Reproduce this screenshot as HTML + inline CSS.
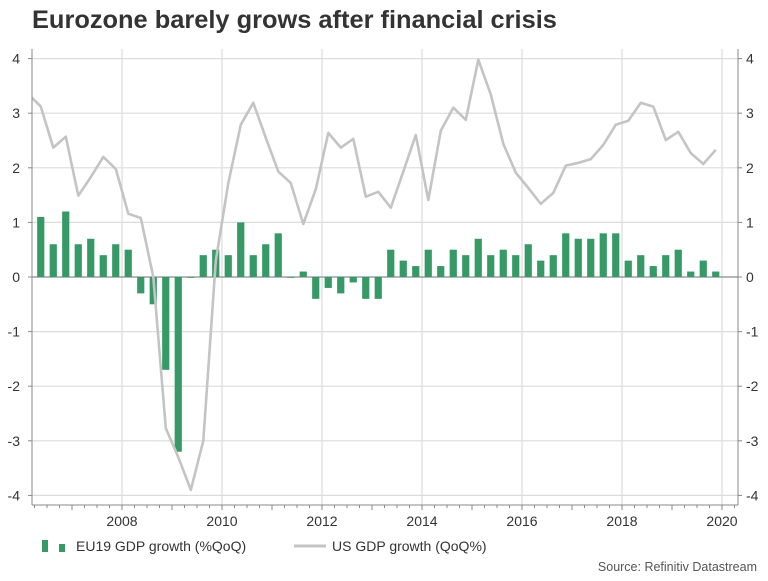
<!DOCTYPE html>
<html><head><meta charset="utf-8"><style>
body{margin:0;background:#fff;width:768px;height:576px;overflow:hidden;font-family:"Liberation Sans",Arial,sans-serif}
svg text{font-family:"Liberation Sans",Arial,sans-serif}
</style></head><body>
<svg id="chart" width="768" height="576" xmlns="http://www.w3.org/2000/svg">
<text x="32" y="28" font-size="25.4" font-weight="bold" fill="#333">Eurozone barely grows after financial crisis</text>
<g id="grid"></g>
<g id="bars"></g>
<g id="line"></g>
<g id="axes"></g>
<g>
<rect x="42" y="540" width="6" height="12" fill="#359a66"/>
<rect x="59" y="544" width="6" height="8" fill="#359a66"/>
<text x="76" y="551" font-size="14" fill="#333">EU19 GDP growth (%QoQ)</text>
<line x1="294" y1="546" x2="326" y2="546" stroke="#c4c4c4" stroke-width="3"/>
<text x="332" y="551" font-size="14" fill="#333">US GDP growth (QoQ%)</text>
</g>
<text x="757" y="571" font-size="12.5" fill="#555" text-anchor="end">Source: Refinitiv Datastream</text>
</svg>
<script>
const startYear = 2006;
const euValues = [null,1.1,0.6,1.2,0.6,0.7,0.4,0.6,0.5,-0.3,-0.5,-1.7,-3.2,0.0,0.4,0.5,0.4,1.0,0.4,0.6,0.8,0.0,0.1,-0.4,-0.2,-0.3,-0.1,-0.4,-0.4,0.5,0.3,0.2,0.5,0.2,0.5,0.4,0.7,0.4,0.5,0.4,0.6,0.3,0.4,0.8,0.7,0.7,0.8,0.8,0.3,0.4,0.2,0.4,0.5,0.1,0.3,0.1];
const usValues = [3.35,3.12,2.37,2.57,1.49,1.83,2.2,1.98,1.16,1.08,0.0,-2.77,-3.3,-3.9,-3.0,0.3,1.72,2.79,3.19,2.55,1.93,1.72,0.97,1.61,2.64,2.37,2.53,1.47,1.56,1.27,1.93,2.6,1.41,2.68,3.1,2.88,3.98,3.34,2.44,1.91,1.63,1.34,1.54,2.04,2.09,2.16,2.42,2.79,2.86,3.19,3.12,2.51,2.66,2.27,2.07,2.33];
const yTicks = [4,3,2,1,0,-1,-2,-3,-4];
const xTickYears = [2008,2010,2012,2014,2016,2018,2020];

const L=32,R=738,T=49,B=505;
const xs = t => 122 + (t-2008)*50;
const ys = v => 277 - v*54.6;
const NS="http://www.w3.org/2000/svg";
function mk(tag,attrs,parent){const e=document.createElementNS(NS,tag);for(const k in attrs)e.setAttribute(k,attrs[k]);parent.appendChild(e);return e;}
const grid=document.getElementById('grid'),bars=document.getElementById('bars'),line=document.getElementById('line'),axes=document.getElementById('axes');
const svg=document.getElementById('chart');
const defs=mk('defs',{},svg);const cp=mk('clipPath',{id:'clip'},defs);mk('rect',{x:L,y:T,width:R-L,height:B-T},cp);
bars.setAttribute('clip-path','url(#clip)');line.setAttribute('clip-path','url(#clip)');
for(let y=2007;y<=2020;y++){ if(y%2) continue;
  const g=mk('line',{x1:xs(y),x2:xs(y),y1:T,y2:B,stroke:'#dcdcdc','stroke-width':1.2},grid);
  
  
}
yTicks.forEach(v=>{
  const g=mk('line',{x1:L,x2:R,y1:ys(v),y2:ys(v),stroke:v===0?'#8a8a8a':'#dcdcdc','stroke-width':v===0?1.3:1.2},grid);
  
  
  const lt=mk('text',{x:20,y:ys(v)+5,'font-size':14,fill:'#333','text-anchor':'end'},axes);lt.textContent=v;
  
  
  const rt=mk('text',{x:746,y:ys(v)+5,'font-size':14,fill:'#333'},axes);rt.textContent=v;
  
  
  mk('line',{x1:L-4,x2:L,y1:ys(v),y2:ys(v),stroke:'#888'},axes);
  mk('line',{x1:R,x2:R+4,y1:ys(v),y2:ys(v),stroke:'#888'},axes);
});
euValues.forEach((v,i)=>{
  if(v===null) return;
  const t=startYear+(i+0.5)/4, cx=xs(t);
  const y0=ys(0), y1=ys(v);
  const r=mk('rect',{x:cx-3.6,y:Math.min(y0,y1),width:7.2,height:Math.max(Math.abs(y1-y0),0.8),fill:'#359a66'},bars);
  
  
});
const pts=usValues.map((v,i)=>xs(startYear+(i+0.5)/4).toFixed(1)+','+ys(v).toFixed(1)).join(' ');
const pl=mk('polyline',{points:pts,fill:'none',stroke:'#c4c4c4','stroke-width':2.6,'stroke-linejoin':'round'},line);


mk('line',{x1:L,x2:L,y1:T,y2:B,stroke:'#888'},axes);
mk('line',{x1:R,x2:R,y1:T,y2:B,stroke:'#888'},axes);
mk('line',{x1:L,x2:R,y1:B,y2:B,stroke:'#888'},axes);
for(let q=0;q<60;q++){const x=xs(startYear+q/4);if(x<L||x>R)continue;mk('line',{x1:x,x2:x,y1:B,y2:B+(q%4===0?5:3),stroke:'#888'},axes);}
xTickYears.forEach(y=>{
  const t=mk('text',{x:xs(y),y:526,'font-size':14,fill:'#333','text-anchor':'middle'},axes);t.textContent=y;
  
  
});
</script>
</body></html>
